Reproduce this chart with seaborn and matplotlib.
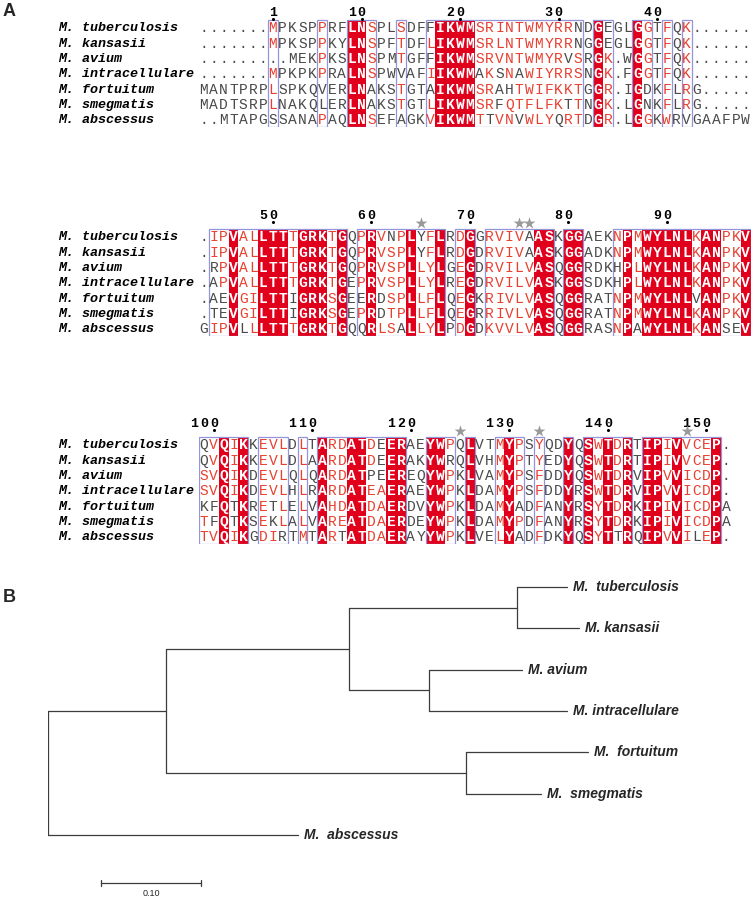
import numpy as np
import pandas as pd
import matplotlib
matplotlib.use('Agg')
import matplotlib.pyplot as plt
from matplotlib.colors import ListedColormap
from matplotlib.patches import Rectangle
from collections import Counter
import seaborn as sns

sns.set_style('white')
plt.rcParams['font.family'] = ['Liberation Mono', 'DejaVu Sans']

# ----------------------- data

species = ['M. tuberculosis', 'M. kansasii', 'M. avium', 'M. intracellulare',
           'M. fortuitum', 'M. smegmatis', 'M. abscessus']

block1 = [
    '.......MPKSPPRFLNSPLSDFFIKWMSRINTWMYRRNDGEGLGGTFQK......',
    '.......MPKSPPKYLNSPFTDFLIKWMSRLNTWMYRRNGGEGLGGTFQK......',
    '.........MEKPKSLNSPMTGFFIKWMSRVNTWMYRVSRGK.WGGTFQK......',
    '.......MPKPKPRALNSPWVAFIIKWMAKSNAWIYRRSNGK.FGGTFQK......',
    'MANTPRPLSPKQVERLNAKSTGTAIKWMSRAHTWIFKKTGGR.IGDKFLRG.....',
    'MADTSRPLNAKQLERLNAKSTGTLIKWMSRFQTFLFKTTNGK.LGNKFLRG.....',
    '..MTAPGSSANAPAQLNSEFAGKVIKWMTTVNVWLYQRTDGR.LGGKWRVGAAFPW',
]
block2 = [
    '.IPVALLTTTGRKTGQPRVNPLYFLRDGGRVIVAASKGGAEKNPMWYLNLKANPKV',
    '.IPVALLTTTGRKTGQPRVSPLYFLRDGDRVIVAASKGGADKNPMWYLNLKANPKV',
    '.RPVALLTTTGRKTGQPRVSPLLYLGEGDRVILVASQGGRDKHPLWYLNLKANPKV',
    '.APVALLTTTGRKTGEPRVSPLLYLREGDRVILVASKGGSDKHPLWYLNLKANPKV',
    '.AEVGILTTIGRKSGEERDSPLLFLQEGKRIVLVASQGGRATNPMWYLNLVANPKV',
    '.TEVGILTTIGRKSGEPRDTPLLFLQEGRRIVLVASQGGRATNPMWYLNLKANPKV',
    'GIPVLLLTTTGRKTGQQRLSALLYLPDGDKVVLVASQGGRASNPAWYLNLKANSEV',
]
block3 = [
    'QVQIKKEVLDLTARDATDEERAEYWPQLVTMYPSYQDYQSWTDRTIPIVVCEP.',
    'QVQIKKEVLDLAARDATDEERAKYWRQLVHMYPTYEDYQSWTDRTIPIVVCEP.',
    'SVQIKDEVLQLQARDATPEEREQYWPKLVAMYPSFDDYQSWTDRVIPVVICDP.',
    'SVQIKDEVLHLRARDATEAERAEYWPKLDAMYPSFDDYRSWTDRVIPVVICDP.',
    'KFQTKRETLELVAHDATDAERDVYWPKLDAMYADFANYRSYTDRKIPIVICDPA',
    'TFQTKSEKLALVAREATDAERDEYWPKLDAMYPDFANYRSYTDRKIPIVICDPA',
    'TVQIKGDIRTMTARTATDAERAYYWPKLVELYADFDKYQSYTTRQIPVVILEP.',
]
# I = strictly identical column (red box), S = similar column (framed), - = neither
cons1 = '-------S----S--IIS--S--SIIIISSSSSSSSSSS-IS--IS-S-S------'
cons2 = '-SSISSIIISIIISI-SISSSISSI-SI-SSSSSII-II---SISIIIIISIISSI'
cons3 = 'SSISI-SSS-S-ISSIISSII--IIS-I--SIS-S--I-ISISI-IISISSSI-'
stars1 = []
stars2 = [22, 32, 33]
stars3 = [26, 34, 49]

# phylogenetic tree (branch lengths, substitutions per site)
tree_nodes = ['root', 'n_all', 'M. abscessus', 'n_slow', 'n_fast', 'n_tbkan', 'n_avint',
              'M. tuberculosis', 'M. kansasii', 'M. avium', 'M. intracellulare',
              'M. fortuitum', 'M. smegmatis']
tree_parent = [None, 'root', 'root', 'n_all', 'n_all', 'n_slow', 'n_slow',
               'n_tbkan', 'n_tbkan', 'n_avint', 'n_avint', 'n_fast', 'n_fast']
tree_blen = [0.0, 0.118, 0.250, 0.183, 0.300, 0.168, 0.080,
             0.050, 0.062, 0.093, 0.138, 0.122, 0.075]
leaf_order = ['M. tuberculosis', 'M. kansasii', 'M. avium', 'M. intracellulare',
              'M. fortuitum', 'M. smegmatis', 'M. abscessus']
leaf_labels = ['M.  tuberculosis', 'M. kansasii', 'M. avium', 'M. intracellulare',
               'M.  fortuitum', 'M.  smegmatis', 'M.  abscessus']
scale_len = 0.10

# ----------------------- style

W, H = 753, 902
RED = '#e0001b'
RED_TXT = '#e8402f'
GREY_TXT = '#4a4a4a'
FRAME = '#9494da'
CW, RH = 9.85, 15.3
X0 = 199
groups = ['ILMV', 'FYW', 'KRH', 'DE', 'NQ', 'ST', 'AG', 'P', 'C']

def grp(ch):
    for g in groups:
        if ch in g:
            return g
    return None

def rect(x0, y0, w, h):
    return [x0 / W, 1 - (y0 + h) / H, w / W, h / H]

fig = plt.figure(figsize=(W / 100, H / 100), dpi=100)
fig.patch.set_facecolor('white')

fig.text(3 / W, 1 - 12 / H, 'A', fontsize=13, fontweight='bold',
         family='Liberation Sans', va='center', ha='left')
fig.text(3 / W, 1 - 597 / H, 'B', fontsize=13, fontweight='bold',
         family='Liberation Sans', va='center', ha='left')

# residue numbering follows M. tuberculosis
tb_num = []
n = 0
for blk in (block1, block2, block3):
    nums = []
    for ch in blk[0]:
        if ch != '.':
            n += 1
            nums.append(n)
        else:
            nums.append(None)
    tb_num.append(nums)

blocks = [block1, block2, block3]
conss = [cons1, cons2, cons3]
starss = [stars1, stars2, stars3]
tb_y = [28, 237, 445]
hdr_y = [-0.48, -0.87, -0.87]
dot_y = [-0.12, -0.5, -0.5]

for bi, (seqs, cons, stars) in enumerate(zip(blocks, conss, starss)):
    ncol = len(seqs[0])
    top = tb_y[bi] - RH / 2 - 2 * RH
    ax = fig.add_axes(rect(X0, top, 56 * CW, 9 * RH))
    ident = pd.DataFrame([[1.0 if cons[c] == 'I' else np.nan for c in range(ncol)]
                          for _ in seqs])
    sns.heatmap(ident, ax=ax, cmap=ListedColormap([RED]), cbar=False,
                xticklabels=False, yticklabels=False, vmin=0, vmax=1)
    ax.set_xlim(0, 56)
    ax.set_ylim(len(seqs), -2)
    ax.axis('off')

    # frames around runs of conserved / similar columns
    c = 0
    while c < ncol:
        if cons[c] != '-':
            s = c
            while c < ncol and cons[c] != '-':
                c += 1
            ax.add_patch(Rectangle((s, 0), c - s, len(seqs), fill=False,
                                   ec=FRAME, lw=0.9, zorder=3))
        else:
            c += 1

    # residues
    for c in range(ncol):
        red_grp = None
        if cons[c] == 'S':
            cnt = Counter(grp(s[c]) for s in seqs if s[c] != '.' and grp(s[c]))
            red_grp = cnt.most_common(1)[0][0]
        for r, s in enumerate(seqs):
            ch = s[c]
            if cons[c] == 'I':
                ax.text(c + 0.5, r + 0.52, ch, color='white', fontsize=10.5,
                        fontweight='bold', ha='center', va='center', zorder=4)
            else:
                col = RED_TXT if (red_grp and grp(ch) == red_grp) else GREY_TXT
                ax.text(c + 0.5, r + 0.52, ch, color=col, fontsize=10.5,
                        ha='center', va='center', zorder=4)

    # species names
    for r, name in enumerate(species):
        ax.text((58 - X0) / CW, r + 0.52, name, fontsize=9.6, fontweight='bold',
                style='italic', ha='left', va='center', color='black', clip_on=False)

    # numbering
    for c, num in enumerate(tb_num[bi]):
        if num is not None and (num == 1 or num % 10 == 0):
            digits = str(num)
            for k, d in enumerate(digits):
                ax.text(c - len(digits) + 1 + k + 0.5, hdr_y[bi], d, fontsize=9.5,
                        fontweight='bold', ha='center', va='center', color='black',
                        clip_on=False)
            ax.scatter([c + 0.5], [dot_y[bi]], s=1.5, color='black', zorder=5,
                       clip_on=False)

    if stars:
        ax.scatter([s + 0.5 for s in stars], [-0.42] * len(stars), marker='*',
                   s=80, color='#9a9a9a', zorder=6, linewidths=0, clip_on=False)

# ----------------------- tree
tree = pd.DataFrame({'node': tree_nodes, 'parent': tree_parent, 'blen': tree_blen})
depth = {}
for nd, par, bl in zip(tree_nodes, tree_parent, tree_blen):
    depth[nd] = bl if par is None else depth[par] + bl
ypos = {leaf: i for i, leaf in enumerate(leaf_order)}
for nd in reversed(tree_nodes):
    if nd not in ypos:
        kids = [k for k, p in zip(tree_nodes, tree_parent) if p == nd]
        ypos[nd] = np.mean([ypos[k] for k in kids])
tree['x'] = tree['node'].map(depth)
tree['y'] = tree['node'].map(ypos)

LEAF0, LSP = 587, 41.33
tax = fig.add_axes(rect(48, LEAF0 - LSP, 705, 8.5 * LSP))
tax.set_xlim(0, 0.705)
tax.set_ylim(7.5, -1)
tax.axis('off')

lc, lw = '#3c3c3c', 0.9
# horizontal branches
for _, row in tree.iterrows():
    if row['parent'] is None:
        continue
    px = depth[row['parent']]
    tax.plot([px, row['x']], [row['y'], row['y']], color=lc, lw=lw)
# vertical connectors
for nd in tree_nodes:
    kids = [k for k, p in zip(tree_nodes, tree_parent) if p == nd]
    if kids:
        ys = [ypos[k] for k in kids]
        tax.plot([depth[nd], depth[nd]], [min(ys), max(ys)], color=lc, lw=lw)

for leaf, lab in zip(leaf_order, leaf_labels):
    tax.text(depth[leaf] + 0.006, ypos[leaf], lab, fontsize=10, fontweight='bold',
             style='italic', family='Liberation Sans', ha='left', va='center')

sb_x0 = 0.053
sb_y = 7.16
tax.plot([sb_x0, sb_x0 + scale_len], [sb_y, sb_y], color=lc, lw=lw)
for xx in (sb_x0, sb_x0 + scale_len):
    tax.plot([xx, xx], [sb_y - 0.08, sb_y + 0.08], color=lc, lw=lw)
tax.text(sb_x0 + scale_len / 2, sb_y + 0.25, '%.2f' % scale_len, fontsize=6.5,
         family='Liberation Sans', ha='center', va='center')

plt.savefig('out.png', dpi=100, facecolor='white')
